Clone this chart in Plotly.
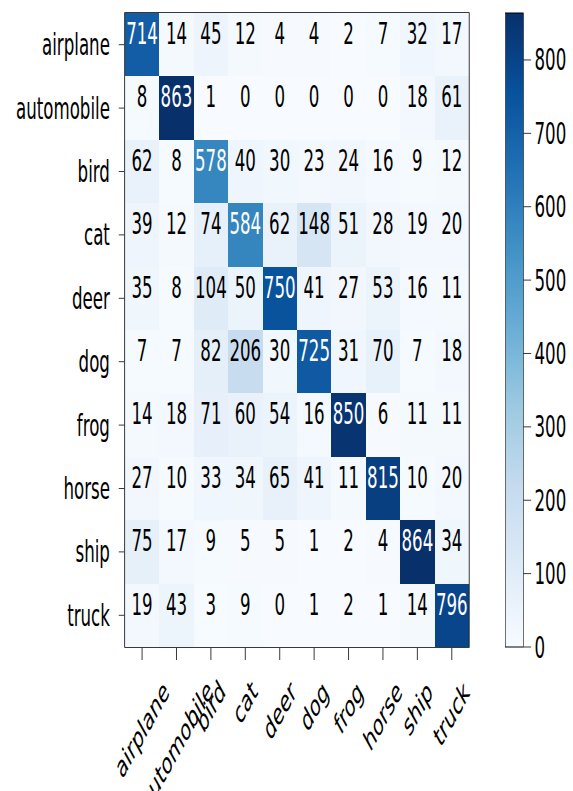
import plotly.graph_objects as go

# CIFAR-10 confusion matrix (rows: true label, columns: predicted label)
classes = ["airplane", "automobile", "bird", "cat", "deer",
           "dog", "frog", "horse", "ship", "truck"]

row_airplane = [714, 14, 45, 12, 4, 4, 2, 7, 32, 17]
row_automobile = [8, 863, 1, 0, 0, 0, 0, 0, 18, 61]
row_bird = [62, 8, 578, 40, 30, 23, 24, 16, 9, 12]
row_cat = [39, 12, 74, 584, 62, 148, 51, 28, 19, 20]
row_deer = [35, 8, 104, 50, 750, 41, 27, 53, 16, 11]
row_dog = [7, 7, 82, 206, 30, 725, 31, 70, 7, 18]
row_frog = [14, 18, 71, 60, 54, 16, 850, 6, 11, 11]
row_horse = [27, 10, 33, 34, 65, 41, 11, 815, 10, 20]
row_ship = [75, 17, 9, 5, 5, 1, 2, 4, 864, 34]
row_truck = [19, 43, 3, 9, 0, 1, 2, 1, 14, 796]

cbar_ticks = [0, 100, 200, 300, 400, 500, 600, 700, 800]

matrix = [row_airplane, row_automobile, row_bird, row_cat, row_deer,
          row_dog, row_frog, row_horse, row_ship, row_truck]

# matplotlib "Blues"
blues = ["#f7fbff", "#deebf7", "#c6dbef", "#9ecae1", "#6baed6",
         "#4292c6", "#2171b5", "#08519c", "#08306b"]
colorscale = [[i / (len(blues) - 1), c] for i, c in enumerate(blues)]

n = len(classes)
zmax = max(max(r) for r in matrix)
thresh = zmax / 2.0

FONT = "DejaVu Sans"
FS = 30

# figure is laid out with square cells, then compressed horizontally
SQUISH = 0.555
W, H = 1033, 791
ML, MT = 225, 13
PLOT = 634
MR = W - ML - PLOT
MB = H - MT - PLOT
CB_LEFT = 926  # colorbar left edge in layout pixels

fig = go.Figure()
fig.add_trace(go.Heatmap(
    z=matrix,
    x=list(range(n)),
    y=list(range(n)),
    colorscale=colorscale,
    zmin=0, zmax=zmax,
    xgap=0, ygap=0,
    hoverinfo="skip",
    colorbar=dict(
        thickness=32, thicknessmode="pixels",
        len=1, lenmode="fraction",
        x=(CB_LEFT - ML) / PLOT, xanchor="left", xpad=0,
        y=0.5, yanchor="middle", ypad=0,
        outlinewidth=1, outlinecolor="black",
        ticks="outside", ticklen=14, tickwidth=1, tickcolor="black",
        tickvals=cbar_ticks,
        tickfont=dict(family=FONT, size=FS, color="black"),
    ),
))

# cell value labels
tx, ty, tt, tc = [], [], [], []
for i, row in enumerate(matrix):
    for j, v in enumerate(row):
        tx.append(j)
        ty.append(i - 0.13)
        tt.append(str(v))
        tc.append("white" if v > thresh else "black")

fig.add_trace(go.Scatter(
    x=tx, y=ty, text=tt, mode="text",
    textposition="middle center",
    textfont=dict(family=FONT, size=FS, color=tc),
    hoverinfo="skip", showlegend=False,
))

# rotated x tick labels, centred under each tick
for j, name in enumerate(classes):
    fig.add_annotation(
        x=j, xref="x", y=0, yref="paper",
        text=name, showarrow=False, textangle=-45,
        xanchor="center", yanchor="top", yshift=-24,
        font=dict(family=FONT, size=FS, color="black"),
    )

fig.update_xaxes(
    range=[-0.5, n - 0.5], tickvals=list(range(n)), showticklabels=False,
    ticks="outside", ticklen=12, tickwidth=1, tickcolor="black",
    showline=True, linecolor="black", linewidth=1, mirror=True,
    showgrid=False, zeroline=False,
)
fig.update_yaxes(
    range=[n - 0.5, -0.5], tickvals=list(range(n)), ticktext=classes,
    ticks="outside", ticklen=10, tickwidth=1, tickcolor="black",
    tickfont=dict(family=FONT, size=FS, color="black"),
    ticklabelstandoff=10,
    showline=True, linecolor="black", linewidth=1, mirror=True,
    showgrid=False, zeroline=False,
)

fig.update_layout(
    width=W, height=H,
    margin=dict(l=ML, r=MR, t=MT, b=MB, pad=0),
    paper_bgcolor="white", plot_bgcolor="white",
    font=dict(family=FONT, size=FS, color="black"),
    showlegend=False,
)

post_js = (
    "var gd=document.getElementById('{plot_id}');"
    "gd.style.transformOrigin='0 0';"
    "gd.style.transform='scaleX(" + str(SQUISH) + ")';"
    "document.documentElement.style.overflow='hidden';"
    "document.body.style.overflow='hidden';"
    "document.body.style.margin='0';"
)

fig.write_html("out.html", post_script=post_js)
